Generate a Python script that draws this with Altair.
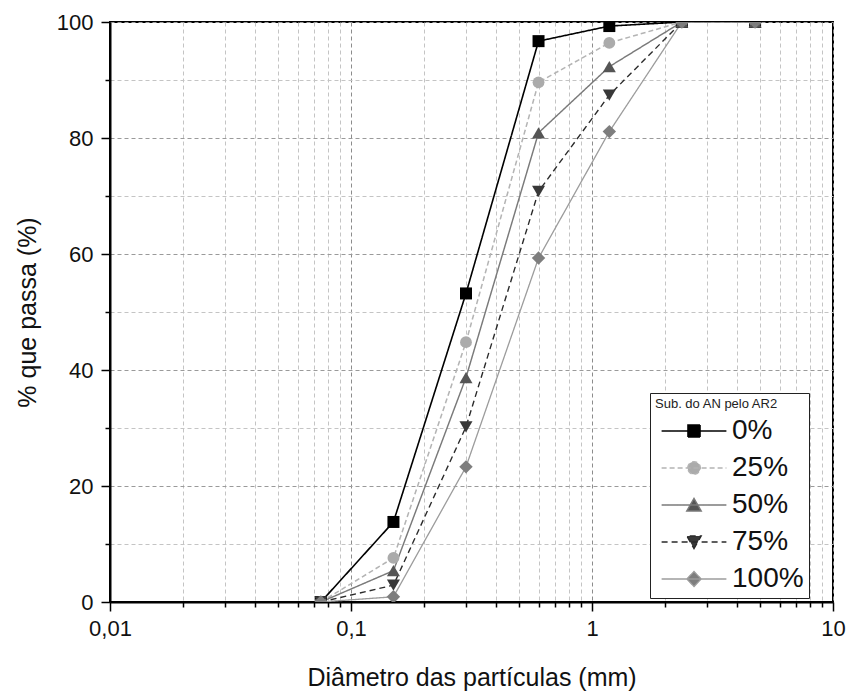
import altair as alt
import pandas as pd

# ---- data ----
diam = [0.075, 0.15, 0.3, 0.6, 1.18, 2.36, 4.75]
series = ["0%", "25%", "50%", "75%", "100%"]
p0 = [0, 13.8, 53.2, 96.7, 99.3, 100, 100]
p25 = [0, 7.6, 44.8, 89.6, 96.4, 100, 100]
p50 = [0, 5.4, 38.7, 80.9, 92.3, 100, 100]
p75 = [0, 2.9, 30.2, 70.8, 87.4, 100, 100]
p100 = [0, 0.9, 23.3, 59.3, 81.1, 100, 100]

x_ticks = [0.01, 0.02, 0.03, 0.04, 0.05, 0.06, 0.07, 0.08, 0.09,
           0.1, 0.2, 0.3, 0.4, 0.5, 0.6, 0.7, 0.8, 0.9,
           1, 2, 3, 4, 5, 6, 7, 8, 9, 10]
y_ticks = [0, 10, 20, 30, 40, 50, 60, 70, 80, 90, 100]

# ---- styles ----
line_colors = ["#000000", "#b4b4b4", "#7a7a7a", "#2a2a2a", "#9c9c9c"]
marker_colors = ["#000000", "#ababab", "#555555", "#383838", "#7e7e7e"]
dashes = [[1, 0], [5, 3], [1, 0], [6, 4], [1, 0]]
line_widths = [1.6, 1.3, 1.4, 1.5, 1.3]
shapes = ["square", "circle", "triangle-up", "triangle-down", "diamond"]
marker_sizes = [144, 140, 170, 170, 180]
legend_paths = [
    "M-5.4,0H5.4M-1,-1H1V1H-1Z",
    "M-5.4,0H5.4M-1.05,0A1.05,1.05,0,1,1,1.05,0A1.05,1.05,0,1,1,-1.05,0Z",
    "M-5.4,0H5.4M0,-1.1L1.2,1L-1.2,1Z",
    "M-5.4,0H5.4M0,1.1L1.2,-1L-1.2,-1Z",
    "M-5.4,0H5.4M0,-1.25L1.2,0L0,1.25L-1.2,0Z",
]

rows = []
for name, vals in zip(series, [p0, p25, p50, p75, p100]):
    for d, v in zip(diam, vals):
        rows.append({"d": d, "p": v, "series": name})
df = pd.DataFrame(rows)

major_x = "abs(log(datum.value)/LN10 - round(log(datum.value)/LN10)) < 0.001"
major_y = "datum.value % 20 == 0"

x_enc = alt.X(
    "d:Q",
    scale=alt.Scale(type="log", domain=[0.01, 10], nice=False),
    axis=alt.Axis(
        values=x_ticks,
        title="Diâmetro das partículas (mm)",
        labelExpr=f"({major_x}) ? replace(format(datum.value, '~g'), '.', ',') : ''",
        labelOverlap=False,
        labelFlush=False,
        labelPadding=7,
        titlePadding=26,
        grid=True,
        gridDash=[4, 3],
        gridColor={"condition": {"test": major_x, "value": "#8c8c8c"}, "value": "#c4c4c4"},
        tickSize={"condition": {"test": major_x, "value": 9}, "value": 5},
    ),
)
y_enc = alt.Y(
    "p:Q",
    scale=alt.Scale(domain=[0, 100], nice=False),
    axis=alt.Axis(
        values=y_ticks,
        title="% que passa (%)",
        labelExpr=f"({major_y}) ? datum.label : ''",
        labelOverlap=False,
        labelPadding=8,
        titlePadding=16,
        grid=True,
        gridDash=[4, 3],
        gridColor={"condition": {"test": major_y, "value": "#9a9a9a"}, "value": "#c4c4c4"},
        tickSize={"condition": {"test": major_y, "value": 9}, "value": 5},
    ),
)

base = alt.Chart(df).encode(x=x_enc, y=y_enc)

stroke_scale = alt.Scale(domain=series, range=line_colors)
dash_scale = alt.Scale(domain=series, range=dashes)

lines = base.mark_line(clip=True).encode(
    stroke=alt.Stroke("series:N", scale=stroke_scale),
    strokeDash=alt.StrokeDash("series:N", scale=dash_scale),
    strokeWidth=alt.StrokeWidth("series:N", scale=alt.Scale(domain=series, range=line_widths), legend=None),
    detail="series:N",
)

point_layers = []
for name, shp, col, sz in zip(series, shapes, marker_colors, marker_sizes):
    point_layers.append(
        base.transform_filter(alt.datum.series == name).mark_point(
            shape=shp, filled=True, color=col, size=sz, opacity=1, clip=True
        )
    )

legend = alt.Legend(
    title="Sub. do AN pelo AR2",
    orient="none",
    legendX=540,
    legendY=371,
    direction="vertical",
    titleFont="Liberation Sans",
    titleFontSize=13,
    titleFontWeight="normal",
    titleColor="#222",
    titlePadding=6,
    labelFont="Liberation Sans",
    labelFontSize=28,
    labelColor="#111",
    labelOffset=24,
    symbolOffset=25,
    symbolSize=144,
    symbolStrokeWidth=1.6,
    symbolOpacity=1,
    rowPadding=9,
    padding=5,
    strokeColor="#222",
    fillColor="white",
)

legend_layer = base.transform_filter("false").mark_point(
    filled=True, opacity=1, strokeWidth=1.6, size=144
).encode(
    fill=alt.Fill("series:N", scale=alt.Scale(domain=series, range=marker_colors), legend=legend),
    stroke=alt.Stroke("series:N", scale=stroke_scale, legend=legend),
    strokeDash=alt.StrokeDash("series:N", scale=dash_scale, legend=legend),
    shape=alt.Shape("series:N", scale=alt.Scale(domain=series, range=legend_paths), legend=legend),
)

chart = (
    alt.layer(lines, *point_layers, legend_layer)
    .properties(
        width=723,
        height=580,
        padding={"left": 110, "top": 22, "right": 14, "bottom": 93},
        autosize=alt.AutoSizeParams(type="none"),
        background="white",
    )
    .configure_view(stroke="black", strokeWidth=2)
    .configure_axis(
        domainColor="black",
        domainWidth=2,
        tickColor="black",
        tickWidth=1.5,
        labelFont="Liberation Sans",
        labelFontSize=22,
        labelColor="#111",
        titleFont="Liberation Sans",
        titleFontSize=25,
        titleFontWeight="normal",
        titleColor="#111",
    )
)

chart.save("out.html", embed_options={"renderer": "svg", "actions": False})
